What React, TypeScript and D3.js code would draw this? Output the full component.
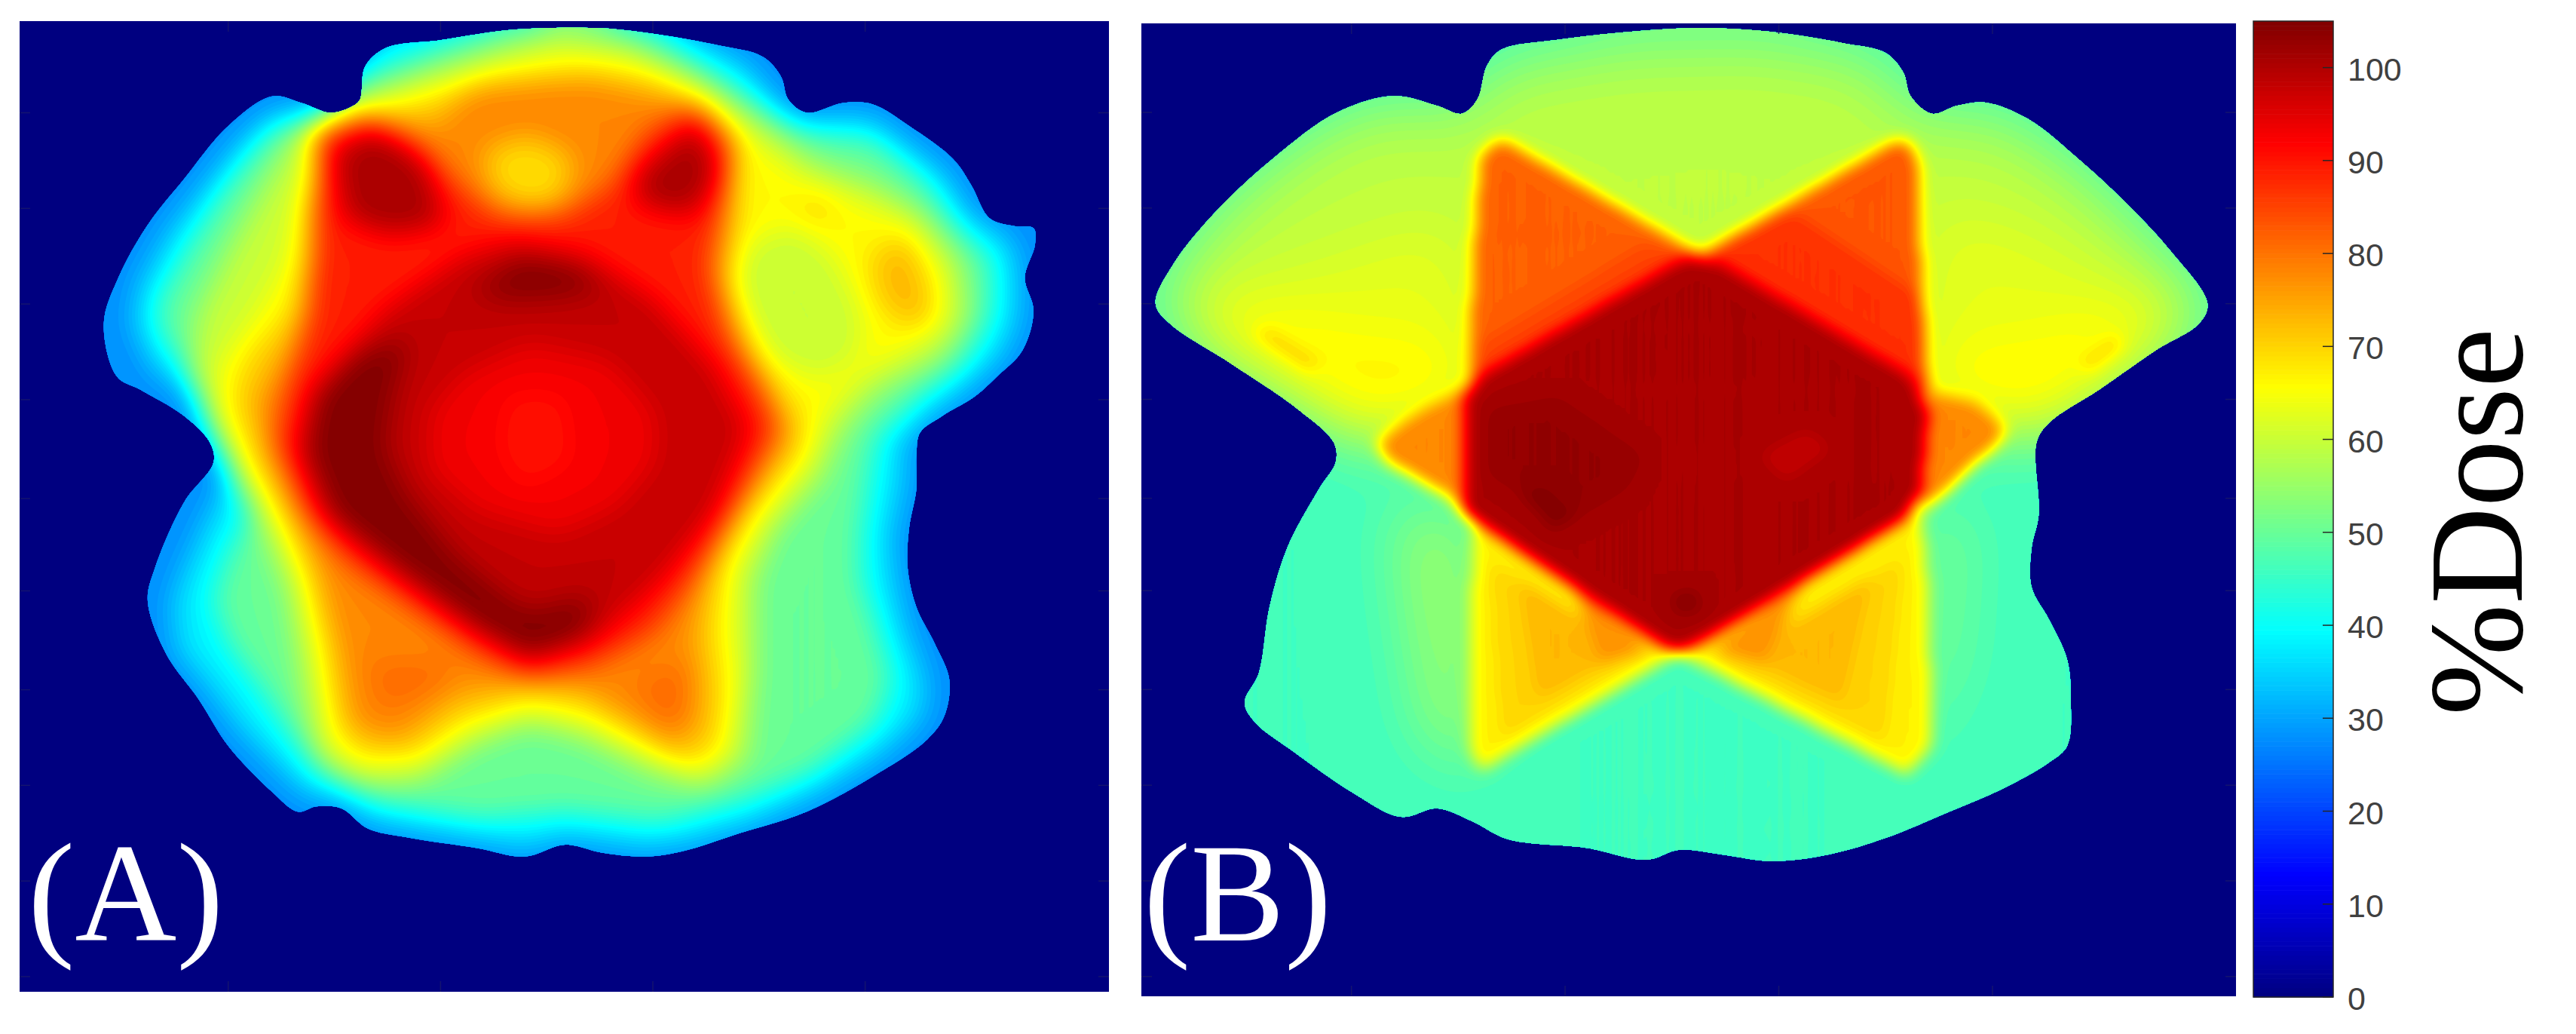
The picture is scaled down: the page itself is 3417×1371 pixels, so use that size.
import React, { useMemo } from 'react';
import * as d3 from 'd3';

type Pt = [number, number];
type Region = [number, Pt[]]; // dose, outline in scan voxels

const colorTicks = [0, 10, 20, 30, 40, 50, 60, 70, 80, 90, 100];
const jetStops = [0, 13.125, 39.375, 65.625, 91.875, 105];
const jetColors = ['#000080', '#0000ff', '#00ffff', '#ffff00', '#ff0000', '#800000'];
const panelTicksY = [170, 315, 460, 605, 755, 895, 1045, 1190, 1335, 1480];
const panelTicksXA = [310, 600, 890, 1180];
const panelTicksXB = [310, 610, 910, 1210];

// panel A (measured dose)
const aBody: Pt[] = [[490,150],[497,100],[525,72],[600,60],[700,44],[820,42],[900,52],[980,68],[1040,85],[1065,115],[1075,150],[1100,170],[1150,155],[1190,157],[1240,190],[1300,240],[1325,280],[1350,330],[1385,342],[1410,345],[1412,370],[1398,420],[1410,470],[1395,530],[1360,570],[1330,600],[1285,630],[1255,655],[1250,690],[1250,740],[1240,800],[1238,860],[1250,920],[1275,975],[1295,1030],[1288,1085],[1265,1120],[1200,1170],[1100,1230],[1010,1262],[930,1290],[880,1298],[820,1292],[770,1280],[715,1298],[650,1285],[560,1270],[500,1255],[465,1225],[430,1222],[405,1230],[370,1200],[310,1130],[270,1060],[225,990],[200,910],[210,860],[250,760],[290,700],[285,670],[250,630],[190,590],[158,570],[140,490],[160,420],[200,340],[250,270],[310,190],[370,145],[410,155],[450,170],[480,160]];
const a38: Pt[] = [[480,120],[520,50],[600,30],[700,10],[820,8],[900,30],[960,65],[1020,100],[1050,145],[1090,190],[1150,175],[1190,180],[1240,220],[1290,265],[1320,325],[1380,365],[1390,420],[1390,480],[1365,540],[1315,590],[1265,630],[1230,670],[1230,740],[1215,810],[1220,880],[1235,950],[1262,1030],[1258,1085],[1200,1145],[1110,1205],[1020,1250],[930,1278],[880,1285],[770,1268],[715,1285],[650,1272],[560,1256],[500,1240],[460,1208],[420,1205],[370,1155],[320,1095],[280,1035],[240,985],[235,910],[255,850],[290,770],[320,700],[310,650],[270,600],[210,560],[180,490],[190,430],[230,350],[280,280],[330,210],[375,170],[440,170]];
const a50: Pt[] = [[480,120],[600,70],[700,35],[820,30],[900,60],[980,115],[1060,175],[1130,205],[1190,210],[1260,275],[1300,335],[1350,395],[1350,480],[1315,550],[1255,600],[1195,660],[1185,720],[1175,800],[1175,880],[1195,950],[1215,1030],[1195,1095],[1105,1170],[1005,1215],[900,1245],[770,1230],[650,1240],[520,1218],[440,1178],[390,1105],[350,1035],[310,975],[290,910],[310,840],[340,780],[345,720],[325,640],[270,570],[220,510],[215,460],[260,370],[310,280],[370,195],[430,180]];
const a60: Pt[] = [[470,150],[560,115],[680,70],[760,45],[860,65],[960,120],[1040,185],[1110,245],[1190,275],[1260,325],[1310,395],[1320,480],[1285,540],[1200,590],[1150,650],[1120,730],[1060,800],[1030,880],[1030,1020],[1020,1150],[960,1195],[880,1170],[790,1120],[720,1100],[650,1130],[570,1185],[490,1190],[430,1150],[410,1040],[390,900],[360,810],[320,730],[275,630],[255,560],[270,470],[310,380],[360,280],[410,185]];
const a66: Pt[] = [[480,165],[560,140],[680,100],[770,80],[860,90],[950,135],[1020,205],[1090,265],[1170,305],[1240,335],[1290,415],[1290,490],[1240,530],[1170,570],[1130,620],[1100,700],[1040,790],[1000,870],[1005,1040],[990,1150],[950,1175],[880,1140],[800,1095],[720,1075],[640,1105],[570,1160],[490,1165],[445,1125],[430,1000],[410,880],[375,790],[330,710],[295,620],[295,560],[350,470],[385,400],[410,290]];
const aRightHole: Pt[] = [[1020,370],[1080,340],[1135,385],[1175,470],[1175,535],[1120,575],[1055,545],[1020,480],[1005,420]];
const a72: Pt[] = [[480,175],[560,160],[680,120],[800,105],[900,125],[975,165],[1005,250],[1005,340],[995,430],[1030,530],[1095,640],[1090,690],[1030,760],[990,830],[970,950],[985,1060],[975,1130],[930,1155],[860,1110],[800,1070],[720,1055],[630,1085],[560,1140],[490,1140],[460,1090],[445,980],[420,870],[380,770],[345,690],[320,600],[340,540],[400,470],[420,400],[430,290]];
const aRightSpot: Pt[] = [[1190,380],[1240,360],[1265,430],[1270,480],[1235,495],[1195,450]];
const aSmallSpot: Pt[] = [[1090,310],[1130,300],[1135,325],[1095,330]];
const a78: Pt[] = [[470,190],[600,190],[640,130],[800,120],[900,145],[985,185],[992,300],[985,430],[1010,530],[1075,650],[1005,770],[960,850],[945,980],[950,1090],[920,1130],[850,1080],[790,1040],[720,1030],[620,1050],[540,1120],[480,1100],[460,970],[430,850],[400,770],[370,690],[350,610],[410,520],[435,420],[440,290]];
const aLowSpotL: Pt[] = [[500,1000],[620,1000],[600,1040],[520,1080]];
const aLowSpotR: Pt[] = [[860,1030],[950,1000],[940,1090],[900,1100]];
const aTopCentre: Pt[] = [[660,225],[720,205],[780,235],[770,300],[720,315],[670,290]];
const a88: Pt[] = [[430,195],[500,175],[565,210],[625,280],[680,330],[760,330],[830,285],[880,200],[945,160],[1000,215],[990,300],[965,400],[990,500],[1040,590],[1060,650],[1015,750],[965,850],[890,960],[805,1010],[720,1030],[655,995],[565,925],[470,850],[410,770],[372,670],[395,560],[420,470],[425,350]];
const aLobeLeft: Pt[] = [[455,230],[510,195],[580,245],[605,340],[530,355],[470,330]];
const aLobeRight: Pt[] = [[870,260],[950,185],[980,260],[945,325],[870,310]];
const a96: Pt[] = [[520,470],[630,385],[700,365],[800,385],[890,450],[975,555],[1020,650],[975,775],[900,880],[810,970],[720,1000],[645,950],[530,860],[440,780],[405,680],[430,590],[480,525]];
const aCrescent: Pt[] = [[425,600],[485,535],[560,510],[535,600],[525,680],[555,750],[620,840],[680,895],[720,925],[810,900],[795,965],[720,995],[650,955],[545,865],[455,785],[420,690]];
const aTopSpot: Pt[] = [[640,445],[710,390],[785,405],[825,440],[760,450],[700,455]];
const aCore: Pt[] = [[585,625],[630,565],[720,520],[830,545],[895,625],[895,700],[840,770],[760,810],[650,775],[585,710]];
const aCentre: Pt[] = [[690,600],[770,600],[780,700],[710,740],[680,680]];

const aRegions: Region[] = [
  [38, a38], [50, a50], [60, a60], [66, a66], [60, aRightHole], [72, a72],
  [73, aRightSpot], [72, aSmallSpot], [78, a78], [81, aLowSpotL], [81, aLowSpotR], [69, aTopCentre], [89, a88],
  [101, aLobeLeft], [101, aLobeRight], [98, a96], [105, aCrescent], [105, aTopSpot],
  [93, aCore], [90, aCentre],
];

// panel B (planned dose)
const bBody: Pt[] = [[487,150],[500,100],[520,75],[600,60],[700,48],[800,42],[900,48],[1000,65],[1060,80],[1085,110],[1095,145],[1125,172],[1160,160],[1200,155],[1260,180],[1330,240],[1400,310],[1460,380],[1512,460],[1500,490],[1440,530],[1360,590],[1290,640],[1272,670],[1275,780],[1265,830],[1265,890],[1290,940],[1315,1000],[1320,1060],[1315,1130],[1290,1155],[1225,1195],[1150,1230],[1060,1270],[980,1295],[900,1305],[830,1295],[770,1288],[725,1303],[640,1285],[530,1272],[480,1245],[430,1225],[380,1238],[310,1200],[230,1140],[175,1095],[160,1065],[180,1020],[195,920],[220,830],[265,740],[288,700],[285,670],[235,620],[140,550],[55,490],[35,460],[60,400],[120,320],[200,240],[290,170],[370,145],[430,160],[465,172]];
const bUpper: Pt[] = [[30,440],[110,320],[200,235],[290,165],[375,140],[470,160],[500,85],[700,45],[900,45],[1060,75],[1095,140],[1125,165],[1210,150],[1330,235],[1460,375],[1530,460],[1500,520],[1290,660],[300,660],[50,500]];
const b59: Pt[] = [[60,440],[130,330],[220,250],[300,200],[375,175],[470,190],[510,130],[700,95],[900,90],[1040,120],[1070,180],[1125,200],[1210,195],[1300,255],[1400,345],[1480,450],[1480,510],[1290,650],[300,650],[70,490]];
const b63Left: Pt[] = [[70,470],[200,420],[300,380],[440,330],[480,420],[480,620],[330,680],[200,590],[90,520]];
const b63Right: Pt[] = [[1490,470],[1380,430],[1260,350],[1130,310],[1110,450],[1130,620],[1280,670],[1390,590]];
const b66Left: Pt[] = [[100,480],[180,470],[320,510],[460,520],[470,620],[340,660],[220,585],[120,520]];
const b66Right: Pt[] = [[1465,480],[1370,480],[1260,520],[1130,530],[1130,620],[1270,650],[1370,570]];
const bFlankLeft: Pt[] = [[370,760],[480,790],[490,1180],[410,1120],[380,900]];
const bFlankRight: Pt[] = [[1115,780],[1175,770],[1165,1000],[1115,1180]];
const bSpotLeft: Pt[] = [[170,505],[195,495],[270,550],[250,565]];
const bSpotRight: Pt[] = [[1330,550],[1385,505],[1395,525],[1345,565]];
const bWingTL: Pt[] = [[490,240],[510,215],[530,215],[800,385],[475,600],[480,400]];
const bWingTR: Pt[] = [[1105,235],[1090,215],[1070,215],[800,385],[1120,600],[1110,400]];
const bWingTLIn: Pt[] = [[800,385],[480,600],[490,520],[720,370]];
const bWingTRIn: Pt[] = [[800,385],[1120,600],[1110,450],[930,320]];
const bWingL: Pt[] = [[345,670],[385,635],[480,580],[470,780],[440,750],[360,700]];
const bWingR: Pt[] = [[1230,650],[1190,610],[1120,590],[1110,780],[1150,740],[1220,670]];
const bWingBL: Pt[] = [[480,790],[770,990],[490,1170],[475,1130]];
const bWingBL2: Pt[] = [[505,850],[720,990],[520,1120]];
const bWingBL3: Pt[] = [[545,875],[700,985],[570,1060]];
const bWingBL4: Pt[] = [[620,880],[730,985],[660,1005]];
const bWingBR: Pt[] = [[1110,770],[770,990],[1090,1175],[1125,1130],[1120,900]];
const bWingBR2: Pt[] = [[1085,845],[825,1000],[1060,1125]];
const bWingBR3: Pt[] = [[1040,875],[860,995],[1000,1065]];
const bWingBR4: Pt[] = [[945,880],[815,985],[890,1005]];
const bHexagon: Pt[] = [[795,388],[830,400],[1095,570],[1120,620],[1110,750],[1090,785],[800,975],[770,990],[740,975],[470,780],[470,600],[490,570],[770,395]];
const bDarkLeft: Pt[] = [[500,620],[600,600],[720,690],[700,740],[620,790],[500,720]];
const bDarkSpot: Pt[] = [[545,745],[580,735],[625,780],[595,805]];
const bDarkLow: Pt[] = [[760,900],[795,895],[800,925],[765,930]];
const bLightRight: Pt[] = [[880,690],[950,650],[985,680],[920,730]];

// broad gradients, blurred first, and the crisp star laid over them
const bSoftRegions: Region[] = [
  [54, bUpper], [59, b59], [63, b63Left], [63, b63Right], [67, b66Left], [67, b66Right],
  [56, bFlankLeft], [54, bFlankRight],
];
const bRegions: Region[] = [
  [70, bSpotLeft], [70, bSpotRight],
  [82, bWingTL], [83, bWingTR], [85, bWingTLIn], [87, bWingTRIn], [78, bWingL], [78, bWingR],
  [67, bWingBL], [70, bWingBL2], [73, bWingBL3], [77, bWingBL4], [67, bWingBR], [70, bWingBR2], [73, bWingBR3], [77, bWingBR4],
  [101, bHexagon], [103, bDarkLeft], [105, bDarkSpot], [105, bDarkLow], [98, bLightRight],
];

const jet = d3.scaleLinear<string>().domain(jetStops).range(jetColors).clamp(true);
const levels = d3.range(20, 105, 1);
const cell = 4;

function DosePanel({ id, label, labelX, body, soft = [], softBlur = 0, regions, base, blur, domainX, domainY, rangeX, rangeY, ticksX }: any) {
  const x = d3.scaleLinear().domain(domainX).range(rangeX);
  const y = d3.scaleLinear().domain(domainY).range(rangeY);

  const paths = useMemo(() => {
    const n = Math.round((rangeX[1] - rangeX[0]) / cell);
    const m = Math.round((rangeY[1] - rangeY[0]) / cell);
    const values = new Float64Array(n * m).fill(base);
    const paint = ([dose, pts]: Region) => {
      const [x0, x1] = d3.extent(pts, (p) => p[0]) as number[];
      const [y0, y1] = d3.extent(pts, (p) => p[1]) as number[];
      for (let j = 0; j < m; j++) {
        const py = y.invert(rangeY[0] + (j + 0.5) * cell);
        if (py < y0 || py > y1) continue;
        for (let i = 0; i < n; i++) {
          const px = x.invert(rangeX[0] + (i + 0.5) * cell);
          if (px < x0 || px > x1) continue;
          if (d3.polygonContains(pts, [px, py])) values[i + j * n] = dose;
        }
      }
    };
    soft.forEach(paint);
    if (softBlur) d3.blur2({ data: values, width: n, height: m }, softBlur);
    regions.forEach(paint);
    d3.blur2({ data: values, width: n, height: m }, blur);
    const contours = d3.contours().size([n, m]).thresholds(levels)(values as any);
    const project = d3.geoTransform({
      point(a: number, b: number) {
        (this as any).stream.point(rangeX[0] + a * cell, rangeY[0] + b * cell);
      },
    });
    const geo = d3.geoPath(project);
    return contours.map((c) => ({ d: geo(c) as string, v: c.value }));
  }, []);

  const outline = d3.line<Pt>().x((p) => x(p[0])).y((p) => y(p[1])).curve(d3.curveCatmullRomClosed.alpha(0.5));

  return (
    <g>
      <clipPath id={id}>
        <path d={outline(body) as string} />
      </clipPath>
      <rect x={rangeX[0]} y={rangeY[0]} width={rangeX[1] - rangeX[0]} height={rangeY[1] - rangeY[0]} fill={jet(0)} />
      <g clipPath={`url(#${id})`}>
        <rect x={rangeX[0]} y={rangeY[0]} width={rangeX[1] - rangeX[0]} height={rangeY[1] - rangeY[0]} fill={jet(base)} />
        {paths.map((p) => (
          <path key={p.v} d={p.d} fill={jet(p.v + 0.5)} />
        ))}
      </g>
      {panelTicksY.map((t) => (
        <g key={t} stroke="#14146e" strokeWidth={1.5}>
          <line x1={rangeX[0]} x2={rangeX[0] + 14} y1={y(t)} y2={y(t)} />
          <line x1={rangeX[1] - 14} x2={rangeX[1]} y1={y(t)} y2={y(t)} />
        </g>
      ))}
      {ticksX.map((t: number) => (
        <g key={t} stroke="#14146e" strokeWidth={1.5}>
          <line x1={x(t)} x2={x(t)} y1={rangeY[0]} y2={rangeY[0] + 14} />
          <line x1={x(t)} x2={x(t)} y1={rangeY[1] - 14} y2={rangeY[1]} />
        </g>
      ))}
      <text x={labelX} y={1247} fontFamily="'Liberation Serif', serif" fontSize={187} fill="#ffffff">
        {label}
      </text>
    </g>
  );
}

function ColorBar() {
  const y = d3.scaleLinear().domain([0, 105]).range([1322, 28]);
  const x0 = 2989;
  const x1 = 3095;
  const steps = d3.range(0, 105, 0.5);
  return (
    <g>
      {steps.map((v) => (
        <rect key={v} x={x0} y={y(v + 0.5)} width={x1 - x0} height={y(v) - y(v + 0.5) + 0.6} fill={jet(v + 0.25)} />
      ))}
      <rect x={x0} y={28} width={x1 - x0} height={1294} fill="none" stroke="#262626" strokeWidth={1.5} />
      {colorTicks.map((t) => (
        <g key={t}>
          <line x1={x1 - 14} x2={x1} y1={y(t)} y2={y(t)} stroke="#262626" strokeWidth={1.5} />
          <text x={3114} y={y(t) + 2} dy="0.35em" fontFamily="'Liberation Sans', Arial, sans-serif" fontSize={43} fill="#404040">
            {t}
          </text>
        </g>
      ))}
      <text
        transform="translate(3345,949) rotate(-90)"
        fontFamily="'Liberation Serif', serif"
        fontSize={178}
        fill="#000000"
      >
        %Dose
      </text>
    </g>
  );
}

export default function App() {
  return (
    <svg
      width={3417}
      height={1371}
      style={{ position: 'absolute', left: 0, top: 0, display: 'block', background: '#ffffff' }}
    >
      <DosePanel
        id="panelA"
        label="(A)"
        labelX={37}
        body={aBody}
        regions={aRegions}
        base={28}
        blur={4}
        domainX={[25, 1513]}
        domainY={[31, 1503]}
        rangeX={[26, 1471]}
        rangeY={[28, 1315]}
        ticksX={panelTicksXA}
      />
      <DosePanel
        id="panelB"
        label="(B)"
        labelX={1517}
        body={bBody}
        soft={bSoftRegions}
        softBlur={9}
        regions={bRegions}
        base={46}
        blur={2}
        domainX={[15, 1552]}
        domainY={[35, 1510]}
        rangeX={[1514, 2966]}
        rangeY={[31, 1321]}
        ticksX={panelTicksXB}
      />
      <ColorBar />
    </svg>
  );
}
